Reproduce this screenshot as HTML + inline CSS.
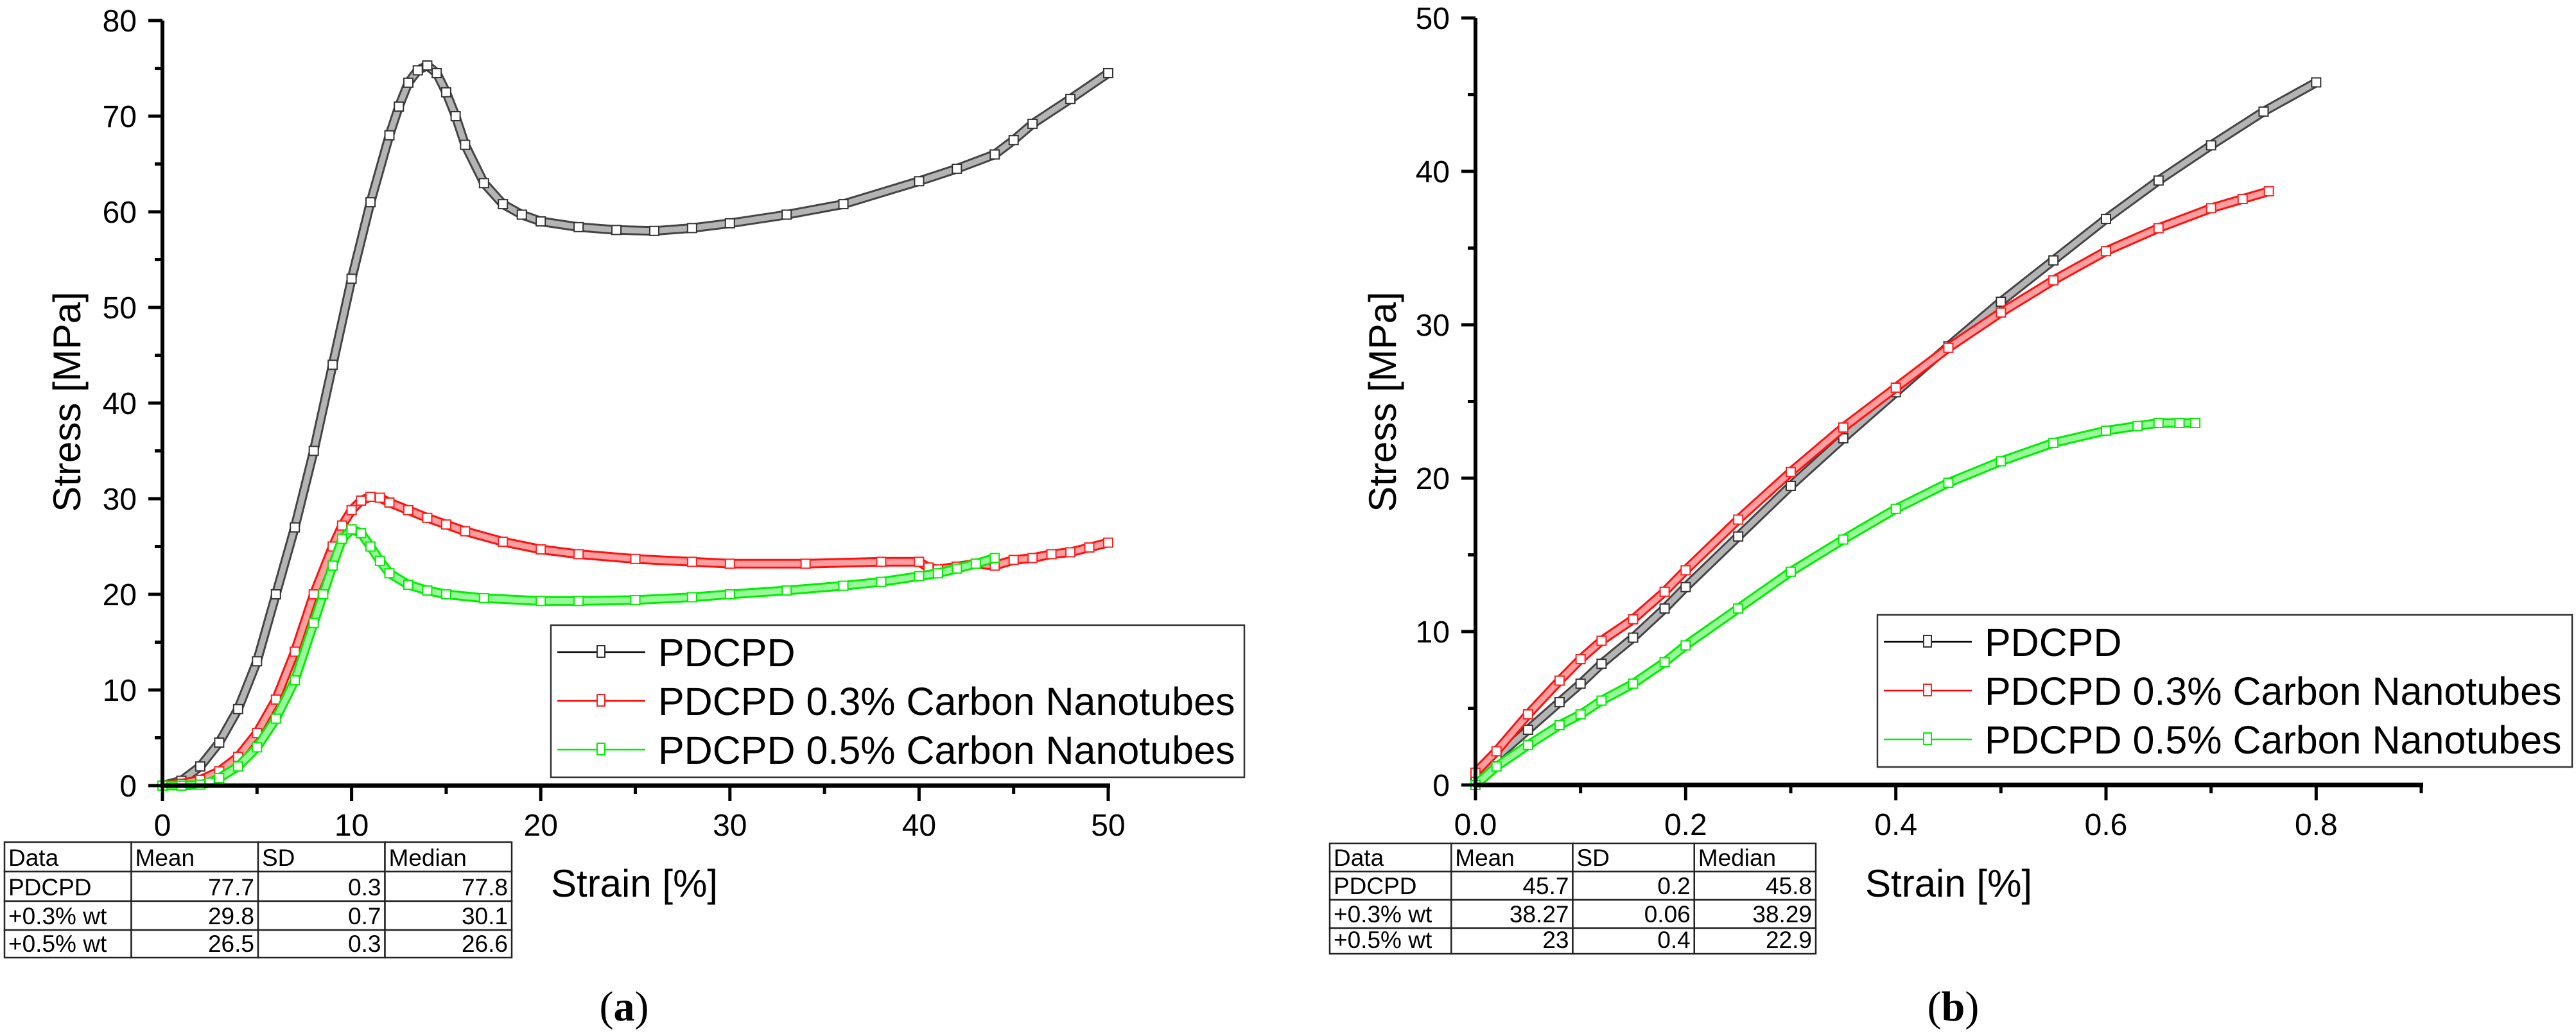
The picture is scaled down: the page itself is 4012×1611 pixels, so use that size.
<!DOCTYPE html>
<html><head><meta charset="utf-8">
<style>
html,body{margin:0;padding:0;background:#fff;}
svg{display:block;font-family:"Liberation Sans",Arial,sans-serif;}
</style></head>
<body>
<svg id="fig" width="4012" height="1611" viewBox="0 0 4012 1611" xmlns="http://www.w3.org/2000/svg">
<rect width="4012" height="1611" fill="#fff"/>
<g id="panelA"></g>
<g id="panelB"></g>
</svg>
<script>
// ---- Panel (a) data ----
const aBlackX = [0,1,2,3,4,5,6,7,8,9,10,11,12,12.5,13,13.5,14,14.5,15,15.5,16,17,18,19,20,22,24,26,28,30,33,36,40,42,44,45,46,48,50];
const aBlackY = [0,0.5,2,4.5,8,13,20,27,35,44,53,61,68,71,73.5,74.8,75.3,74.5,72.5,70,67,63,60.8,59.7,59,58.4,58.1,58,58.3,58.8,59.7,60.8,63.2,64.5,66,67.5,69.2,71.8,74.5];
const aRedX = [0,1,2,3,4,5,6,7,8,9,9.5,10,10.5,11,11.5,12,13,14,15,16,18,20,22,25,28,30,34,38,40,40.5,41,42,43,44,45,46,47,48,49,50];
const aRedY = [0,0.2,0.6,1.5,3,5.5,9,14,20,25,27.2,28.8,29.8,30.2,30.1,29.6,28.8,28,27.3,26.6,25.5,24.7,24.2,23.7,23.4,23.2,23.2,23.4,23.4,22.8,22.6,22.9,23.2,23.0,23.6,23.8,24.2,24.4,24.9,25.4];
const aGreenX = [0,1,2,2.5,3,4,5,6,7,8,8.5,9,9.5,10,10.5,11,11.5,12,13,14,15,17,20,22,25,28,30,33,36,38,40,41,42,43,44];
const aGreenY = [0,0,0.1,0.3,0.8,2,4,7,11,17,20,23,25.8,26.8,26.4,25,23.5,22.2,21,20.4,20,19.6,19.3,19.3,19.4,19.7,20,20.4,20.9,21.3,21.9,22.2,22.7,23.2,23.8];
const aXTicks = [0,10,20,30,40,50];
const aYTicks = [0,10,20,30,40,50,60,70,80];
// ---- Panel (b) data ----
const bBlackX = [0,0.02,0.05,0.08,0.1,0.12,0.15,0.18,0.2,0.25,0.3,0.35,0.4,0.45,0.5,0.55,0.6,0.65,0.7,0.75,0.8];
const bBlackY = [0.5,1.8,3.6,5.4,6.6,7.9,9.6,11.5,12.9,16.2,19.5,22.6,25.6,28.6,31.5,34.2,36.9,39.4,41.7,43.9,45.8];
const bRedX = [0,0.02,0.05,0.08,0.1,0.12,0.15,0.18,0.2,0.25,0.3,0.35,0.4,0.45,0.5,0.55,0.6,0.65,0.7,0.73,0.755];
const bRedY = [0.8,2.2,4.6,6.8,8.2,9.4,10.8,12.6,14,17.3,20.4,23.3,25.9,28.5,30.8,32.9,34.8,36.3,37.6,38.2,38.7];
const bGreenX = [0,0.02,0.05,0.08,0.1,0.12,0.15,0.18,0.2,0.25,0.3,0.35,0.4,0.45,0.5,0.55,0.6,0.63,0.65,0.67,0.685];
const bGreenY = [0,1.2,2.6,3.9,4.6,5.5,6.6,8,9.1,11.5,13.9,16,18,19.7,21.1,22.3,23.1,23.4,23.6,23.6,23.6];
const bXTicks = [0.0,0.2,0.4,0.6,0.8];
const bXLabels = ["0.0","0.2","0.4","0.6","0.8"];
const bYTicks = [0,10,20,30,40,50];
const legendNames = ["PDCPD","PDCPD 0.3% Carbon Nanotubes","PDCPD 0.5% Carbon Nanotubes"];
const tableHead = ["Data","Mean","SD","Median"];
const aTable = [["PDCPD","77.7","0.3","77.8"],["+0.3% wt","29.8","0.7","30.1"],["+0.5% wt","26.5","0.3","26.6"]];
const bTable = [["PDCPD","45.7","0.2","45.8"],["+0.3% wt","38.27","0.06","38.29"],["+0.5% wt","23","0.4","22.9"]];

const NS="http://www.w3.org/2000/svg";
function mk(tag, attrs, parent){const e=document.createElementNS(NS,tag);for(const k in attrs)e.setAttribute(k,attrs[k]);parent.appendChild(e);return e;}
const colors=["#000000","#ff0000","#00ee00"];
const bandColors=["#444444","#ff1010","#00ee00"];
const markerStroke=["#333333","#ff2020","#00ee00"];

function panel(g, cfg){
  const sx=v=>cfg.x0+(v-cfg.xmin)/(cfg.xmax-cfg.xmin)*(cfg.x1-cfg.x0);
  const sy=v=>cfg.y0-(v-cfg.ymin)/(cfg.ymax-cfg.ymin)*(cfg.y0-cfg.y1);
  cfg.series.forEach((s,i)=>{
    const sg=mk('g',{},g);
    
    
    const pts=s[0].map((x,j)=>sx(x).toFixed(1)+','+sy(s[1][j]).toFixed(1)).join(' ');
    const band=mk('polyline',{points:pts,fill:'none',stroke:bandColors[i],'stroke-width':15,'stroke-linejoin':'round','stroke-linecap':'round'},sg);
    
    
    mk('polyline',{points:pts,fill:'none',stroke:'#fff','stroke-opacity':0.6,'stroke-width':9,'stroke-linejoin':'round'},sg);
    s[0].forEach((x,j)=>{
      const r=mk('rect',{x:sx(x)-7,y:sy(s[1][j])-7,width:14,height:14,fill:'#fff',stroke:markerStroke[i],'stroke-width':2},sg);
      
      
    });
  });
  const ax=mk('g',{},g);
  
  
  mk('line',{x1:cfg.x0,y1:cfg.y0,x2:cfg.x1+3,y2:cfg.y0,stroke:'#000','stroke-width':7},ax);
  mk('line',{x1:cfg.x0,y1:cfg.y0+3,x2:cfg.x0,y2:cfg.y1,stroke:'#000','stroke-width':6},ax);
  cfg.xticks.forEach((t,k)=>{
    mk('line',{x1:sx(t),y1:cfg.y0,x2:sx(t),y2:cfg.y0+24,stroke:'#000','stroke-width':5},ax);
    const tx=mk('text',{x:sx(t),y:cfg.y0+78,'font-size':48,'text-anchor':'middle'},ax);
    tx.textContent=cfg.xlabels[k];
    
    
  });
  cfg.xminor.forEach(t=>mk('line',{x1:sx(t),y1:cfg.y0,x2:sx(t),y2:cfg.y0+13,stroke:'#000','stroke-width':5},ax));
  cfg.yticks.forEach(t=>{
    mk('line',{x1:cfg.x0,y1:sy(t),x2:cfg.x0-22,y2:sy(t),stroke:'#000','stroke-width':5},ax);
    const tx=mk('text',{x:cfg.x0-40,y:sy(t)+17,'font-size':48,'text-anchor':'end'},ax);
    tx.textContent=String(t);
    
    
  });
  cfg.yminor.forEach(t=>mk('line',{x1:cfg.x0,y1:sy(t),x2:cfg.x0-12,y2:sy(t),stroke:'#000','stroke-width':5},ax));
  const yt=mk('text',{x:0,y:0,'font-size':60,'text-anchor':'middle',transform:`translate(${cfg.ytx},${cfg.yty}) rotate(-90)`},g);
  yt.textContent='Stress [MPa]';
  
  
  const xt=mk('text',{x:cfg.xtx,y:1397,'font-size':60},g);
  xt.textContent='Strain [%]';
  
  
  const lg=mk('g',{},g);
  
  
  const L=cfg.legend;
  mk('rect',{x:L.x,y:L.y,width:L.w,height:L.h,fill:'#fff',stroke:'#333','stroke-width':2.5},lg);
  legendNames.forEach((n,i)=>{
    const ey=L.y+42+i*L.dy;
    const e=mk('g',{},lg);
    
    
    mk('line',{x1:L.x+10,y1:ey,x2:L.x+147,y2:ey,stroke:colors[i],'stroke-width':2.5},e);
    mk('rect',{x:L.x+72,y:ey-10,width:12,height:18,fill:'#fff',stroke:markerStroke[i],'stroke-width':2},e);
    const t=mk('text',{x:L.x+167,y:ey+22,'font-size':61},e);
    t.textContent=n;
  });
  const tb=mk('g',{},g);
  
  
  const T=cfg.table;
  const rows=[tableHead].concat(T.data);
  const cw=(T.x1-T.x0)/4;
  rows.forEach((r,ri)=>{
    const ry=T.ys[ri], rh=T.ys[ri+1]-T.ys[ri];
    r.forEach((c,ci)=>{
      mk('rect',{x:T.x0+ci*cw,y:ry,width:cw,height:rh,fill:'#fff',stroke:'#222','stroke-width':2.5},tb);
      const left = ri===0||ci===0;
      const t=mk('text',{x:left?T.x0+ci*cw+6:T.x0+(ci+1)*cw-6,y:ry+rh-9,'font-size':37,'text-anchor':left?'start':'end'},tb);
      t.textContent=c;
    });
  });
  const lab=mk('text',{x:cfg.labx,y:1590,'font-size':66,'font-family':'"Liberation Serif",serif','text-anchor':'middle'},g);
  lab.innerHTML='(<tspan font-weight="bold">'+cfg.lab+'</tspan>)';
  
  
}

panel(document.getElementById('panelA'),{
  x0:253,x1:1726,xmin:0,xmax:50,y0:1224,y1:32,ymin:0,ymax:80,
  series:[[aBlackX,aBlackY],[aRedX,aRedY],[aGreenX,aGreenY]],keys:['pdcpd','cnt-03','cnt-05'],
  xticks:aXTicks,xlabels:aXTicks.map(String),xminor:[5,15,25,35,45],
  yticks:aYTicks,yminor:[5,15,25,35,45,55,65,75],
  ytx:125,yty:626,xtx:858,
  legend:{x:858,y:974,w:1080,h:237,dy:76},
  table:{x0:7,x1:797,ys:[1312,1358,1404,1449,1492],data:aTable},
  labx:972,lab:'a'
});
panel(document.getElementById('panelB'),{
  x0:2298,x1:3771,xmin:0,xmax:0.9,y0:1223,y1:28,ymin:0,ymax:50,
  series:[[bBlackX,bBlackY],[bRedX,bRedY],[bGreenX,bGreenY]],keys:['pdcpd','cnt-03','cnt-05'],
  xticks:bXTicks,xlabels:bXLabels,xminor:[0.1,0.3,0.5,0.7,0.9],
  yticks:bYTicks,yminor:[5,15,25,35,45],
  ytx:2174,yty:626,xtx:2905,
  legend:{x:2924,y:958,w:1082,h:237,dy:76},
  table:{x0:2071,x1:2828,ys:[1314,1358,1402,1446,1486],data:bTable},
  labx:3042,lab:'b'
});
</script>
</body></html>
